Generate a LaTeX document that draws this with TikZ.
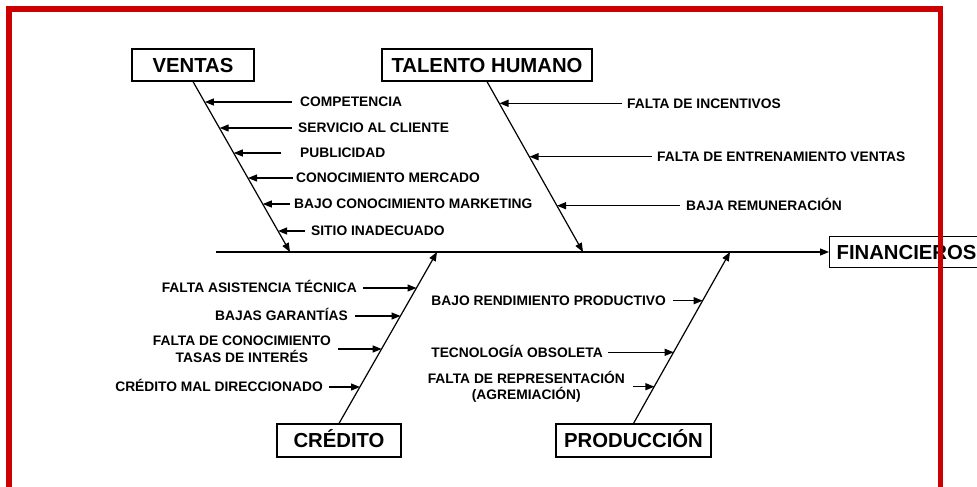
\documentclass[tikz,border=0pt]{standalone}
\usepackage{fontspec}
\setmainfont{Liberation Sans}
\usetikzlibrary{arrows.meta}
\definecolor{framered}{RGB}{204,0,0}
\begin{document}
\begin{tikzpicture}[x=1pt,y=-1pt,
  catbox/.style={draw, line width=1.2pt, inner sep=0pt, text height=14.5pt, text depth=0pt,
    font=\fontsize{20.3}{24}\selectfont\bfseries, minimum height=32pt},
  cause/.style={inner sep=0pt, text height=9.7pt, text depth=0pt,
    font=\fontsize{13.8}{16.5}\selectfont\bfseries, align=center},
  cause2/.style={cause, text height=26.2pt},
  bone/.style={line width=1.2pt, -{Triangle[length=9pt,width=7pt]}},
  twig/.style={line width=1.2pt, -{Triangle[length=9pt,width=7pt]}},
]
\clip (0,0) rectangle (977,487);
\fill[white] (0,0) rectangle (977,487);

% category boxes
\node[catbox, minimum width=122pt] (ventas) at (193,65) {VENTAS};
\node[catbox, minimum width=210pt] (talento) at (487,65) {TALENTO HUMANO};
\node[catbox, anchor=west, minimum height=31pt, inner xsep=7pt] (fin) at (829,252) {FINANCIEROS\hspace*{30pt}};
\node[catbox, minimum width=124pt, minimum height=33pt] (credito) at (339,440.5) {CRÉDITO};
\node[catbox, minimum width=155pt, minimum height=33pt] (produccion) at (633.5,440.5) {PRODUCCIÓN};

% spine and bones
\coordinate (spS) at (216,252);
\coordinate (vE) at (290,252);
\coordinate (tE) at (583,252);
\coordinate (cE) at (437,252);
\coordinate (pE) at (730,252);
\draw[bone] (spS) -- (fin.west);
\draw[bone] (ventas.south) -- (vE);
\draw[bone] (talento.south) -- (tE);
\draw[bone] (credito.north) -- (cE);
\draw[bone] (produccion.north) -- (pE);

% VENTAS causes
\node[cause, anchor=west] (v1) at (300,102) {COMPETENCIA};
\node[cause, anchor=west] (v2) at (298,128) {SERVICIO AL CLIENTE};
\node[cause, anchor=west] (v3) at (300,153) {PUBLICIDAD};
\node[cause, anchor=west] (v4) at (296,178) {CONOCIMIENTO MERCADO};
\node[cause, anchor=west] (v5) at (294,204) {BAJO CONOCIMIENTO MARKETING};
\node[cause, anchor=west] (v6) at (311,231) {SITIO INADECUADO};
\coordinate (v1t) at (204.9,102);
\coordinate (v2t) at (219.7,128);
\coordinate (v3t) at (233.8,153);
\coordinate (v4t) at (248.0,178);
\coordinate (v5t) at (262.8,204);
\coordinate (v6t) at (278.1,231);
\draw[twig] ([xshift=-8pt]v1.west) -- (v1t);
\draw[twig] ([xshift=-6pt]v2.west) -- (v2t);
\draw[twig] ([xshift=-19pt]v3.west) -- (v3t);
\draw[twig] ([xshift=-3pt]v4.west) -- (v4t);
\draw[twig] ([xshift=-4pt]v5.west) -- (v5t);
\draw[twig] ([xshift=-6pt]v6.west) -- (v6t);

% TALENTO HUMANO causes
\node[cause, anchor=west] (t1) at (627,103.3) {FALTA DE INCENTIVOS};
\node[cause, anchor=west] (t2) at (657,156.7) {FALTA DE ENTRENAMIENTO VENTAS};
\node[cause, anchor=west] (t3) at (686,205.7) {BAJA REMUNERACIÓN};
\coordinate (t1t) at (499.5,103.3);
\coordinate (t2t) at (529.5,156.7);
\coordinate (t3t) at (557,205.7);
\draw[twig] ([xshift=-5pt]t1.west) -- (t1t);
\draw[twig] ([xshift=-5pt]t2.west) -- (t2t);
\draw[twig] ([xshift=-6pt]t3.west) -- (t3t);

% CREDITO causes
\node[cause, anchor=east] (c1) at (357,288) {FALTA ASISTENCIA TÉCNICA};
\node[cause, anchor=east] (c2) at (348,316) {BAJAS GARANTÍAS};
\node[cause2, anchor=east] (c3) at (331,349) {FALTA DE CONOCIMIENTO\\TASAS DE INTERÉS};
\node[cause, anchor=east] (c4) at (323,387) {CRÉDITO MAL DIRECCIONADO};
\coordinate (c1t) at (416.5,288);
\coordinate (c2t) at (400.5,316);
\coordinate (c3t) at (381.7,349);
\coordinate (c4t) at (360,387);
\draw[twig] ([xshift=6pt]c1.east) -- (c1t);
\draw[twig] ([xshift=7pt]c2.east) -- (c2t);
\draw[twig] ([xshift=7pt]c3.east) -- (c3t);
\draw[twig] ([xshift=6pt]c4.east) -- (c4t);

% PRODUCCION causes
\node[cause, anchor=east] (p1) at (666,300.7) {BAJO RENDIMIENTO PRODUCTIVO};
\node[cause, anchor=east] (p2) at (603,352.3) {TECNOLOGÍA OBSOLETA};
\node[cause2, anchor=east] (p3) at (625,386.7) {FALTA DE REPRESENTACIÓN\\(AGREMIACIÓN)};
\coordinate (p1t) at (702.7,300.7);
\coordinate (p2t) at (673.7,352.3);
\coordinate (p3t) at (654.4,386.7);
\draw[twig] ([xshift=7pt]p1.east) -- (p1t);
\draw[twig] ([xshift=5pt]p2.east) -- (p2t);
\draw[twig] ([xshift=8pt]p3.east) -- (p3t);

% red frame
\draw[framered, line width=5.5pt] (9,600) -- (9,9) -- (940.5,9) -- (940.5,600);
\end{tikzpicture}
\end{document}
